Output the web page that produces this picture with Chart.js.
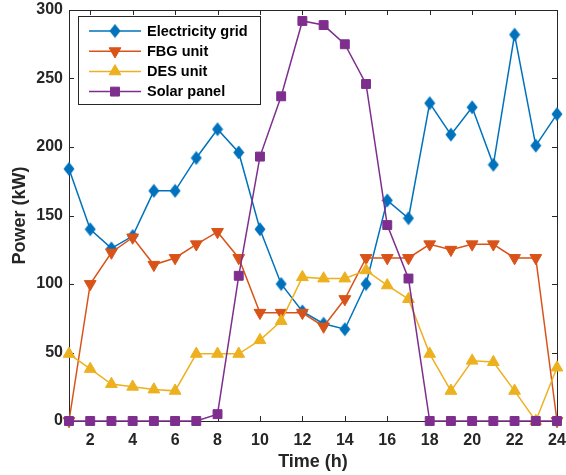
<!DOCTYPE html>
<html>
<head>
<meta charset="utf-8">
<title>Power (kW)</title>
<script src="https://cdn.jsdelivr.net/npm/chart.js@4.4.1/dist/chart.umd.min.js"></script>
<style>
	html, body { margin: 0; padding: 0; background: #fff; }
	#wrap { width: 566px; height: 475px; }
</style>
</head>
<body>
<div id="wrap"><canvas id="powerChart" width="566" height="475"></canvas></div>
<script>
// Hourly power by source
const hours = [ 1, 2, 3, 4, 5, 6, 7, 8, 9, 10, 11, 12, 13, 14, 15, 16, 17, 18, 19, 20, 21, 22, 23, 24 ];
const gridPower = [ 184, 140, 126, 135, 168, 168, 192, 213, 196, 140, 100, 80, 71, 67, 100, 161, 148, 232, 209, 229, 187, 282, 201, 224 ];
const fbgPower = [ 0, 100, 123, 134, 114, 119, 129, 138, 119, 79, 79, 79, 69, 89, 119, 119, 119, 129, 125, 129, 129, 119, 119, 0 ];
const desPower = [ 49, 38, 27, 25, 23, 22, 49, 49, 49, 59, 73, 105, 104, 104, 110, 99, 89, 49, 22, 44, 43, 22, 0, 39 ];
const solarPower = [ 0, 0, 0, 0, 0, 0, 0, 5, 106, 193, 237, 292, 289, 275, 246, 143, 104, 0, 0, 0, 0, 0, 0, 0 ];
const seriesNames = [ 'Electricity grid', 'FBG unit', 'DES unit', 'Solar panel' ];
const xTicks = [ 2, 4, 6, 8, 10, 12, 14, 16, 18, 20, 22, 24 ];
const yTicks = [ 0, 50, 100, 150, 200, 250, 300 ];

const FONT = '"Liberation Sans", Arial, Helvetica, sans-serif';
const AXIS_COLOR = '#262626';
const COLORS = [ '#0072BD', '#D95319', '#EDB120', '#7E2F8E' ];

// Taller-than-wide diamond marker
function makeDiamond( color ) {
	const c = document.createElement( 'canvas' );
	c.width = 12;
	c.height = 15;
	const g = c.getContext( '2d' );
	g.fillStyle = color;
	g.beginPath();
	g.moveTo( 6, 0.5 );
	g.lineTo( 11.5, 7.5 );
	g.lineTo( 6, 14.5 );
	g.lineTo( 0.5, 7.5 );
	g.closePath();
	g.fill();
	return c;
}

const markers = [
	{ pointStyle: makeDiamond( COLORS[ 0 ] ), rotation: 0, radius: 7 },
	{ pointStyle: 'triangle', rotation: 180, radius: 6.8 },
	{ pointStyle: 'triangle', rotation: 0, radius: 6.8 },
	{ pointStyle: 'rect', rotation: 0, radius: 6.3 },
];

function toPoints( values ) {
	return hours.map( ( h, i ) => ( { x: h, y: values[ i ] } ) );
}

const seriesValues = [ gridPower, fbgPower, desPower, solarPower ];

const datasets = seriesValues.map( ( values, i ) => ( {
	label: seriesNames[ i ],
	data: toPoints( values ),
	borderColor: COLORS[ i ],
	backgroundColor: COLORS[ i ],
	borderWidth: 1.5,
	pointStyle: markers[ i ].pointStyle,
	pointRotation: markers[ i ].rotation,
	pointRadius: markers[ i ].radius,
	pointHoverRadius: markers[ i ].radius,
	pointBorderWidth: 1,
	pointBackgroundColor: COLORS[ i ],
	pointBorderColor: COLORS[ i ],
	tension: 0,
	clip: false,
	// later series sit on top
	order: 3 - i,
} ) );

// Axes box with inward ticks, drawn under the data
const boxPlugin = {
	id: 'boxAxes',
	beforeDatasetsDraw( chart ) {
		const { ctx, chartArea: a, scales } = chart;
		const len = 5;
		ctx.save();
		ctx.strokeStyle = AXIS_COLOR;
		ctx.lineWidth = 1;
		ctx.beginPath();
		ctx.rect( Math.round( a.left ) + 0.5, Math.round( a.top ) + 0.5,
			Math.round( a.right - a.left ), Math.round( a.bottom - a.top ) );
		scales.x.ticks.forEach( ( t ) => {
			const px = Math.round( scales.x.getPixelForValue( t.value ) ) + 0.5;
			ctx.moveTo( px, a.bottom );
			ctx.lineTo( px, a.bottom - len );
			ctx.moveTo( px, a.top );
			ctx.lineTo( px, a.top + len );
		} );
		scales.y.ticks.forEach( ( t ) => {
			const py = Math.round( scales.y.getPixelForValue( t.value ) ) + 0.5;
			ctx.moveTo( a.left, py );
			ctx.lineTo( a.left + len, py );
			ctx.moveTo( a.right, py );
			ctx.lineTo( a.right - len, py );
		} );
		ctx.stroke();
		ctx.restore();
	},
};

// Boxed legend with line + marker samples in the top-left corner
const legendPlugin = {
	id: 'boxLegend',
	afterDraw( chart ) {
		const { ctx } = chart;
		const box = { left: 78.5, top: 16.5, right: 260.5, bottom: 104.5 };
		ctx.save();
		ctx.fillStyle = '#fff';
		ctx.fillRect( box.left, box.top, box.right - box.left, box.bottom - box.top );
		ctx.strokeStyle = AXIS_COLOR;
		ctx.lineWidth = 1;
		ctx.strokeRect( box.left, box.top, box.right - box.left, box.bottom - box.top );

		ctx.font = 'bold 14.5px ' + FONT;
		ctx.textBaseline = 'middle';
		seriesNames.forEach( ( name, i ) => {
			const y = 31 + i * 20.2;
			ctx.strokeStyle = COLORS[ i ];
			ctx.fillStyle = COLORS[ i ];
			ctx.lineWidth = 1.5;
			ctx.beginPath();
			ctx.moveTo( 89, y );
			ctx.lineTo( 141, y );
			ctx.stroke();
			ctx.lineWidth = 1;
			Chart.helpers.drawPoint( ctx, {
				pointStyle: markers[ i ].pointStyle,
				rotation: markers[ i ].rotation,
				radius: markers[ i ].radius,
				borderWidth: 1,
			}, 115, y );
			ctx.fillStyle = '#000';
			ctx.fillText( name, 147, y + 0.5 );
		} );
		ctx.restore();
	},
};

new Chart( document.getElementById( 'powerChart' ), {
	type: 'line',
	data: { datasets },
	options: {
		responsive: false,
		animation: false,
		events: [],
		layout: {
			autoPadding: false,
			padding: { top: 10, right: 9, left: 0, bottom: 0 },
		},
		plugins: {
			legend: { display: false },
			tooltip: { enabled: false },
		},
		scales: {
			x: {
				type: 'linear',
				min: 1,
				max: 24,
				afterBuildTicks: ( scale ) => {
					scale.ticks = xTicks.map( ( v ) => ( { value: v } ) );
				},
				afterFit: ( scale ) => {
					scale.height = 54;
					scale.paddingLeft = 0;
					scale.paddingRight = 0;
				},
				grid: { display: false, drawTicks: false },
				border: { display: false },
				ticks: {
					color: AXIS_COLOR,
					font: { family: FONT, size: 16, weight: 'bold' },
					padding: 10,
					maxRotation: 0,
					autoSkip: false,
				},
				title: {
					display: true,
					text: 'Time (h)',
					color: AXIS_COLOR,
					font: { family: FONT, size: 18, weight: 'bold' },
					padding: { top: 0, bottom: 2 },
				},
			},
			y: {
				min: 0,
				max: 300,
				afterBuildTicks: ( scale ) => {
					scale.ticks = yTicks.map( ( v ) => ( { value: v } ) );
				},
				afterFit: ( scale ) => {
					scale.width = 69;
					scale.paddingTop = 0;
					scale.paddingBottom = 0;
				},
				grid: { display: false, drawTicks: false },
				border: { display: false },
				ticks: {
					color: AXIS_COLOR,
					font: { family: FONT, size: 16, weight: 'bold' },
					padding: 6,
				},
				title: {
					display: true,
					text: 'Power (kW)',
					color: AXIS_COLOR,
					font: { family: FONT, size: 18, weight: 'bold' },
					padding: { top: 9, bottom: 0 },
				},
			},
		},
	},
	plugins: [ boxPlugin, legendPlugin ],
} );
</script>
</body>
</html>
